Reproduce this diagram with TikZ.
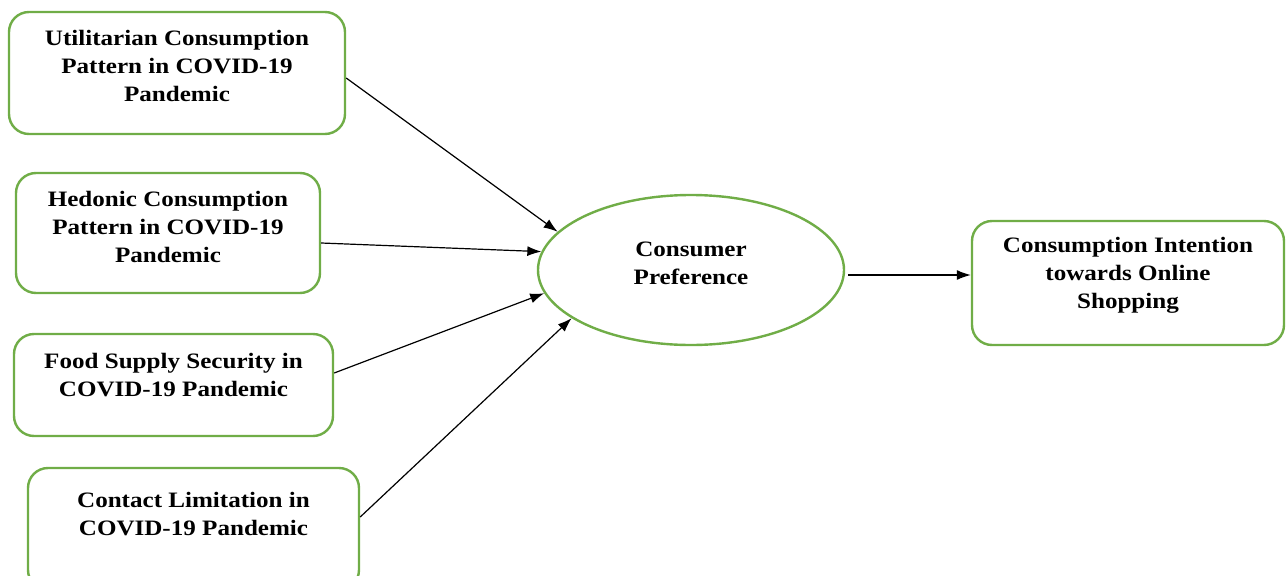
\documentclass[tikz,border=0pt]{standalone}
\usepackage{fontspec}
\setmainfont{Liberation Serif}[FakeStretch=1.14]
\usepackage{xcolor}
\usetikzlibrary{shapes.geometric,arrows.meta,positioning}
\definecolor{boxgreen}{HTML}{70AD47}

\tikzset{
    box/.style={draw=boxgreen, line width=2.4pt, rounded corners=20pt, fill=white},
    oval/.style={draw=boxgreen, line width=2.4pt, ellipse, fill=white},
    lbl/.style={align=center, font=\fontsize{22}{28}\selectfont\bfseries},
    link/.style={->, line width=1.2pt}
}

\begin{document}
\begin{tikzpicture}[x=1pt, y=-1pt, >={Latex[length=14pt,width=10pt]}]
    \useasboundingbox (0,0) rectangle (1286,576);

    % input boxes
    \node[box, minimum width=336pt, minimum height=122pt] (util) at (177,73) {};
    \node[lbl] (utilT) at (177,66) {Utilitarian Consumption\\Pattern in COVID-19\\Pandemic};

    \node[box, minimum width=304pt, minimum height=120pt] (hed) at (168,233) {};
    \node[lbl] (hedT) at (168,227) {Hedonic Consumption\\Pattern in COVID-19\\Pandemic};

    \node[box, minimum width=319pt, minimum height=102pt] (food) at (173.5,385) {};
    \node[lbl] (foodT) at (173.5,375) {Food Supply Security in\\COVID-19 Pandemic};

    \node[box, minimum width=331pt, minimum height=122pt] (cont) at (193.5,529) {};
    \node[lbl] (contT) at (193.5,514) {Contact Limitation in\\COVID-19 Pandemic};

    % mediator and outcome
    \node[oval, minimum width=306pt, minimum height=150pt] (pref) at (691,270) {};
    \node[lbl] (prefT) at (691,263) {Consumer\\Preference};

    \node[box, minimum width=312pt, minimum height=124pt] (shop) at (1128,283) {};
    \node[lbl] (shopT) at (1128,275) {Consumption Intention\\towards Online\\Shopping};

    % paths
    \draw[link] ([yshift=-5pt]util.east) -- (pref.164);
    \draw[link] ([yshift=-10pt]hed.east) -- (pref.173);
    \draw[link] ([yshift=12pt]food.east) -- (pref.189);
    \draw[link] ([yshift=12pt]cont.east) -- (pref.202);
    \draw[link, shorten <=3pt] ([yshift=-5pt]pref.east) -- ([yshift=8pt]shop.west);
\end{tikzpicture}
\end{document}
